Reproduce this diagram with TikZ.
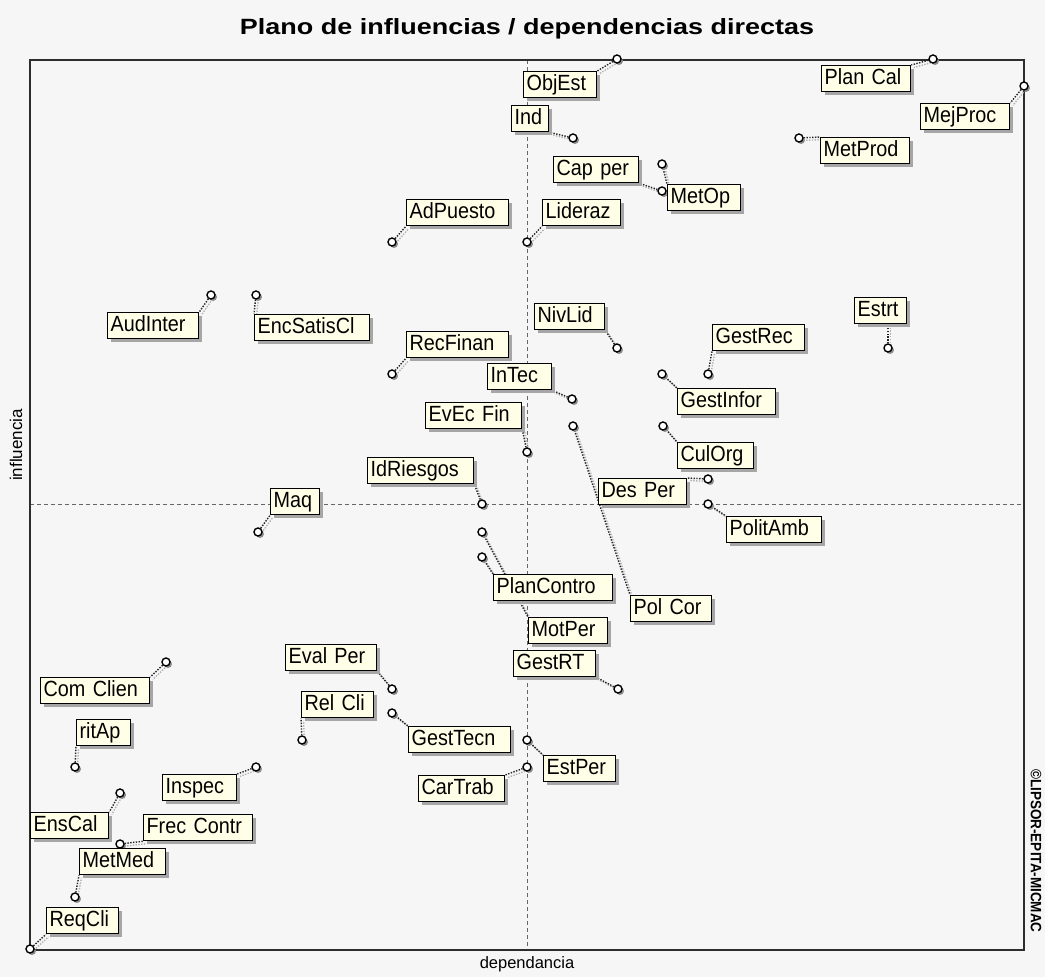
\documentclass[tikz,border=0pt]{standalone}
\usepackage{fontspec}
\setmainfont{Liberation Sans}
\newfontfamily\labelfont{Liberation Sans}[FakeStretch=0.9]
\usetikzlibrary{shadows}
\definecolor{bgc}{RGB}{246,246,246}
\definecolor{cream}{RGB}{255,255,232}
\definecolor{framec}{RGB}{45,45,45}
\pgfdeclarelayer{back}
\pgfdeclarelayer{lines}
\pgfsetlayers{back,lines,main}

\begin{document}
\begin{tikzpicture}[x=1pt,y=-1pt,
  lab/.style={draw=black, line width=1.3pt, fill=cream, anchor=north west,
    minimum height=26pt, inner xsep=3pt, inner ysep=0pt,
    text width=#1pt-6pt, align=left,
    text height=15.5pt, text depth=4.5pt,
    font=\labelfont\fontsize{22}{22}\selectfont,
    drop shadow={shadow xshift=3.5pt, shadow yshift=-3.5pt, fill=black!35, opacity=1}},
  pt/.style={circle, draw=black, line width=1.4pt, fill=white, inner sep=0pt,
    minimum size=8pt,
    drop shadow={shadow xshift=2pt, shadow yshift=-2pt, fill=black!45, opacity=1}},
  conn/.style={draw=black!85, line width=1.4pt, dash pattern=on 1.4pt off 1.4pt,
    preaction={draw=black!30, line width=1.4pt, dash pattern=on 1.4pt off 1.4pt,
      transform canvas={shift={(2.5pt,-2.5pt)}}}},
  axisline/.style={draw=black!60, line width=0.9pt, dash pattern=on 4pt off 3pt},
  framebox/.style={draw=framec, line width=1.5pt}]

\useasboundingbox (0,0) rectangle (1045,977);
\begin{pgfonlayer}{back}
  \fill[bgc] (0,0) rectangle (1045,977);
\end{pgfonlayer}

% plot frame and the two mean axes
\coordinate (fTL) at (30,60);
\coordinate (fBR) at (1024,950);
\coordinate (axT) at (527,60);
\coordinate (axB) at (527,950);
\coordinate (axL) at (30,504);
\coordinate (axR) at (1024,504);
\begin{pgfonlayer}{lines}
  \draw[axisline] (axT) -- (axB);
  \draw[axisline] (axL) -- (axR);
  \draw[framebox] (fTL) rectangle (fBR);
\end{pgfonlayer}

% titles
\node[anchor=base] (title) at (527,34)
  {\resizebox{574pt}{16pt}{\bfseries Plano de influencias / dependencias directas}};
\node[rotate=90, font=\fontsize{17}{17}\selectfont] (ylab) at (16,445) {influencia};
\node[font=\fontsize{16.5}{16.5}\selectfont] (xlab) at (527,964) {dependancia};
\node[rotate=-90, font=\labelfont\fontsize{15}{15}\selectfont\bfseries] (copy) at (1036,851) {©LIPSOR-EPITA-MICMAC};

% variable positions
\node[pt] (pObjEst)     at (617,59)  {};
\node[pt] (pPlanCal)    at (933,59)  {};
\node[pt] (pMejProc)    at (1024,86) {};
\node[pt] (pInd)        at (573,138) {};
\node[pt] (pMetProd)    at (799,138) {};
\node[pt] (pCapPer)     at (662,191) {};
\node[pt] (pMetOp)      at (662,164) {};
\node[pt] (pLideraz)    at (527,242) {};
\node[pt] (pAdPuesto)   at (392,242) {};
\node[pt] (pAudInter)   at (211,295) {};
\node[pt] (pEncSatisCl) at (256,295) {};
\node[pt] (pRecFinan)   at (392,374) {};
\node[pt] (pNivLid)     at (617,348) {};
\node[pt] (pGestRec)    at (708,374) {};
\node[pt] (pEstrt)      at (888,348) {};
\node[pt] (pInTec)      at (572,399) {};
\node[pt] (pGestInfor)  at (662,374) {};
\node[pt] (pEvEcFin)    at (527,452) {};
\node[pt] (pCulOrg)     at (663,426) {};
\node[pt] (pIdRiesgos)  at (482,504) {};
\node[pt] (pDesPer)     at (708,479) {};
\node[pt] (pPolitAmb)   at (708,504) {};
\node[pt] (pMaq)        at (258,532) {};
\node[pt] (pPolCor)     at (573,426) {};
\node[pt] (pMotPer)     at (482,532) {};
\node[pt] (pPlanContro) at (482,557) {};
\node[pt] (pGestRT)     at (618,689) {};
\node[pt] (pEvalPer)    at (392,689) {};
\node[pt] (pRelCli)     at (302,740) {};
\node[pt] (pGestTecn)   at (392,713) {};
\node[pt] (pEstPer)     at (527,740) {};
\node[pt] (pCarTrab)    at (527,767) {};
\node[pt] (pComClien)   at (166,662) {};
\node[pt] (pritAp)      at (75,767)  {};
\node[pt] (pInspec)     at (256,767) {};
\node[pt] (pEnsCal)     at (120,793) {};
\node[pt] (pFrecContr)  at (120,844) {};
\node[pt] (pMetMed)     at (75,897)  {};
\node[pt] (pReqCli)     at (30,949)  {};

% variable labels
\node[lab=73]  (bObjEst)     at (523,71)  {ObjEst};
\node[lab=89]  (bPlanCal)    at (821,65)  {Plan Cal};
\node[lab=89]  (bMejProc)    at (920,103) {MejProc};
\node[lab=37]  (bInd)        at (511,105) {Ind};
\node[lab=89]  (bMetProd)    at (820,137) {MetProd};
\node[lab=85]  (bCapPer)     at (553,156) {Cap per};
\node[lab=73]  (bMetOp)      at (667,184) {MetOp};
\node[lab=78]  (bLideraz)    at (542,199) {Lideraz};
\node[lab=102] (bAdPuesto)   at (406,199) {AdPuesto};
\node[lab=91]  (bAudInter)   at (107,312) {AudInter};
\node[lab=115] (bEncSatisCl) at (254,314) {EncSatisCl};
\node[lab=102] (bRecFinan)   at (406,331) {RecFinan};
\node[lab=70]  (bNivLid)     at (534,303) {NivLid};
\node[lab=92]  (bGestRec)    at (712,324) {GestRec};
\node[lab=52]  (bEstrt)      at (854,297) {Estrt};
\node[lab=64]  (bInTec)      at (487,363) {InTec};
\node[lab=98]  (bGestInfor)  at (677,388) {GestInfor};
\node[lab=96]  (bEvEcFin)    at (425,402) {EvEc Fin};
\node[lab=76]  (bCulOrg)     at (677,442) {CulOrg};
\node[lab=106] (bIdRiesgos)  at (367,457) {IdRiesgos};
\node[lab=88]  (bDesPer)     at (598,478) {Des Per};
\node[lab=95]  (bPolitAmb)   at (726,516) {PolitAmb};
\node[lab=49]  (bMaq)        at (270,488) {Maq};
\node[lab=81]  (bPolCor)     at (630,595) {Pol Cor};
\node[lab=79]  (bMotPer)     at (528,617) {MotPer};
\node[lab=119] (bPlanContro) at (493,574) {PlanContro};
\node[lab=82]  (bGestRT)     at (513,650) {GestRT};
\node[lab=91]  (bEvalPer)    at (285,644) {Eval Per};
\node[lab=72]  (bRelCli)     at (301,691) {Rel Cli};
\node[lab=102] (bGestTecn)   at (408,726) {GestTecn};
\node[lab=72]  (bEstPer)     at (543,755) {EstPer};
\node[lab=86]  (bCarTrab)    at (418,775) {CarTrab};
\node[lab=109] (bComClien)   at (40,677)  {Com Clien};
\node[lab=54]  (britAp)      at (76,719)  {ritAp};
\node[lab=74]  (bInspec)     at (162,774) {Inspec};
\node[lab=78]  (bEnsCal)     at (30,812)  {EnsCal};
\node[lab=109] (bFrecContr)  at (143,814) {Frec Contr};
\node[lab=86]  (bMetMed)     at (79,848)  {MetMed};
\node[lab=72]  (bReqCli)     at (46,907)  {ReqCli};

% leader lines from each position to its label
\begin{pgfonlayer}{lines}
  \draw[conn] (pObjEst) -- (bObjEst.north east);
  \draw[conn] (pPlanCal) -- (bPlanCal.north east);
  \draw[conn] (pMejProc) -- (bMejProc.north east);
  \draw[conn] (pInd) -- (bInd.south east);
  \draw[conn] (pMetProd) -- (bMetProd.north west);
  \draw[conn] (pCapPer) -- (bCapPer.south east);
  \draw[conn] (pMetOp) -- (bMetOp.north west);
  \draw[conn] (pLideraz) -- (bLideraz.south west);
  \draw[conn] (pAdPuesto) -- (bAdPuesto.south west);
  \draw[conn] (pAudInter) -- (bAudInter.north east);
  \draw[conn] (pEncSatisCl) -- (bEncSatisCl.north west);
  \draw[conn] (pRecFinan) -- (bRecFinan.south west);
  \draw[conn] (pNivLid) -- (bNivLid.south east);
  \draw[conn] (pGestRec) -- (bGestRec.south west);
  \draw[conn] (pEstrt) -- (pEstrt |- bEstrt.south);
  \draw[conn] (pInTec) -- (bInTec.south east);
  \draw[conn] (pGestInfor) -- (bGestInfor.north west);
  \draw[conn] (pEvEcFin) -- (bEvEcFin.south east);
  \draw[conn] (pCulOrg) -- (bCulOrg.north west);
  \draw[conn] (pIdRiesgos) -- (bIdRiesgos.south east);
  \draw[conn] (pDesPer) -- (bDesPer.north east);
  \draw[conn] (pPolitAmb) -- (bPolitAmb.north west);
  \draw[conn] (pMaq) -- (bMaq.south west);
  \draw[conn] (pPolCor) -- (bPolCor.north west);
  \draw[conn] (pMotPer) -- (bMotPer.north west);
  \draw[conn] (pPlanContro) -- (bPlanContro.north west);
  \draw[conn] (pGestRT) -- (bGestRT.south east);
  \draw[conn] (pEvalPer) -- (bEvalPer.south east);
  \draw[conn] (pRelCli) -- (bRelCli.south west);
  \draw[conn] (pGestTecn) -- (bGestTecn.north west);
  \draw[conn] (pEstPer) -- (bEstPer.north west);
  \draw[conn] (pCarTrab) -- (bCarTrab.north east);
  \draw[conn] (pComClien) -- (bComClien.north east);
  \draw[conn] (pritAp) -- (britAp.south west);
  \draw[conn] (pInspec) -- (bInspec.north east);
  \draw[conn] (pEnsCal) -- (bEnsCal.north east);
  \draw[conn] (pFrecContr) -- (bFrecContr.south west);
  \draw[conn] (pMetMed) -- (bMetMed.south west);
  \draw[conn] (pReqCli) -- (bReqCli.south west);
\end{pgfonlayer}
\end{tikzpicture}
\end{document}
